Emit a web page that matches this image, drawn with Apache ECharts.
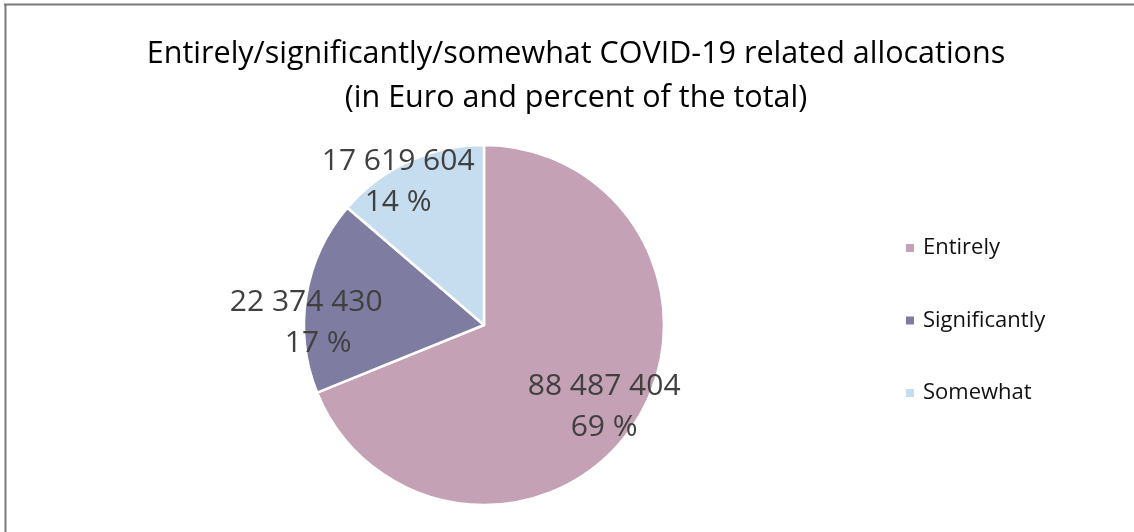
<!DOCTYPE html>
<html>
<head>
<meta charset="utf-8">
<script src="https://cdn.jsdelivr.net/npm/echarts@6/dist/echarts.min.js"></script>
<style>
  html, body { margin: 0; padding: 0; background: #ffffff; }
  #chart { width: 1134px; height: 532px; }
</style>
</head>
<body>
<div id="chart"></div>
<script>
// Allocation categories and amounts (Euro)
const categories = ['Entirely', 'Significantly', 'Somewhat'];
const amounts = [88487404, 22374430, 17619604];
const percents = [69, 17, 14];
const sliceColors = ['#c4a1b4', '#7e7ca1', '#c6ddf0'];
// per-slice label nudges (best-fit placement)
const labelOffsets = [[43, 30], [-86, 13], [-47, -59]];
// extra left indent of the percent line, per slice
const pctIndent = [0, 24, 0];

const FONT = '"Open Sans", "Liberation Sans", sans-serif';

function fmtThousands(v) {
  return String(v).replace(/\B(?=(\d{3})+(?!\d))/g, ' ');
}

const pieData = categories.map((name, i) => ({
  name: name,
  value: amounts[i],
  pct: percents[i],
  indent: pctIndent[i],
  itemStyle: { color: sliceColors[i] },
  label: { offset: labelOffsets[i] }
}));

const labelText = { fontFamily: FONT, fontSize: 30, lineHeight: 41, color: '#404040' };

const chart = echarts.init(document.getElementById('chart'), null, { renderer: 'canvas' });

chart.setOption({
  backgroundColor: '#ffffff',
  animation: false,
  title: {
    text: 'Entirely/significantly/somewhat COVID-19 related allocations\n(in Euro and percent of the total)',
    left: 571,
    top: 27,
    textAlign: 'center',
    textStyle: {
      fontFamily: FONT,
      fontSize: 30.5,
      fontWeight: 'normal',
      color: '#000000',
      lineHeight: 44
    }
  },
  legend: {
    orient: 'vertical',
    left: 899,
    top: 232,
    itemWidth: 10,
    itemHeight: 10,
    itemGap: 50.5,
    icon: 'rect',
    data: categories,
    textStyle: {
      fontFamily: FONT,
      fontSize: 22,
      color: '#111111',
      padding: [0, 0, 0, 3]
    }
  },
  series: [{
    type: 'pie',
    center: [484, 325],
    radius: 180,
    startAngle: 90,
    clockwise: true,
    avoidLabelOverlap: false,
    itemStyle: { borderColor: '#ffffff', borderWidth: 2.5 },
    label: {
      show: true,
      position: 'inside',
      fontFamily: FONT,
      fontSize: 30,
      lineHeight: 41,
      color: '#404040',
      rich: {
        v: labelText,
        p: labelText,
        ps: Object.assign({}, labelText, { padding: [0, 0, 0, 24] })
      },
      formatter: function (p) {
        const pctStyle = p.data.indent ? 'ps' : 'p';
        return '{v|' + fmtThousands(p.value) + '}\n{' + pctStyle + '|' + p.data.pct + ' %}';
      }
    },
    labelLine: { show: false },
    emphasis: { disabled: true },
    data: pieData
  }],
  graphic: [
    { type: 'line', shape: { x1: 4, y1: 4.5, x2: 1134, y2: 4.5 }, style: { stroke: '#7a7a7a', lineWidth: 2 } },
    { type: 'line', shape: { x1: 5.5, y1: 4, x2: 5.5, y2: 532 }, style: { stroke: '#7a7a7a', lineWidth: 2 } }
  ]
});
</script>
</body>
</html>
